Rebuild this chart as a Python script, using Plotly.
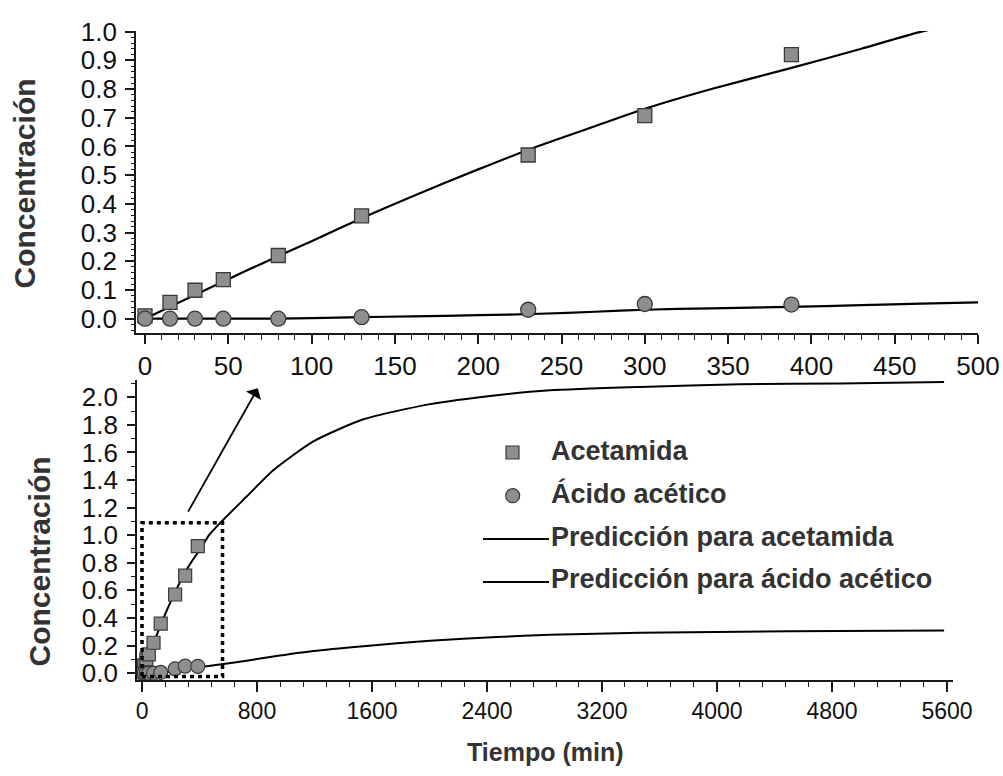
import plotly.graph_objects as go

# Experimental sampling times (min) and measured concentrations
t_exp = [0, 15, 30, 47, 80, 130, 230, 300, 388]
acetamida_exp = [0.01, 0.057, 0.099, 0.136, 0.22, 0.358, 0.57, 0.707, 0.92]
acido_exp = [0.0, 0.0, 0.0, 0.0, 0.0, 0.005, 0.031, 0.051, 0.049]

# Model prediction curves
t_pred = [0, 20, 40, 60, 80, 100, 130, 160, 200, 237, 270, 300, 340, 387, 430,
          466, 554, 728, 913, 1192, 1540, 2004, 2468, 2838, 3465, 4160, 4856, 5580]
acetamida_pred = [0.0, 0.055, 0.11, 0.165, 0.218, 0.27, 0.35, 0.425, 0.52, 0.603,
                  0.67, 0.731, 0.80, 0.872, 0.94, 1.0, 1.1, 1.28, 1.47, 1.68,
                  1.84, 1.95, 2.015, 2.05, 2.075, 2.095, 2.10, 2.11]
acido_pred = [0.0, 0.0, 0.0, 0.0, 0.0, 0.002, 0.005, 0.008, 0.012, 0.017, 0.024,
              0.031, 0.036, 0.041, 0.047, 0.052, 0.065, 0.09, 0.12, 0.16, 0.195,
              0.235, 0.262, 0.278, 0.292, 0.30, 0.305, 0.308]

# Zoomed region highlighted in the lower panel
zoom_t = [0, 560]
zoom_c = [-0.025, 1.09]
# Arrow pointing from the zoom box toward the upper panel
arrow_tail = (315, 1.16)
arrow_head = (805, 2.065)

legend_labels = ["Acetamida", "Ácido acético",
                 "Predicción para acetamida", "Predicción para ácido acético"]

W, H = 1003, 776
FONT = "Liberation Sans, Arial, sans-serif"
MARK_FILL = "#8e8e8e"
MARK_EDGE = "#3a3a3a"
TEXT_GRAY = "#333333"


def px(x):
    return x / W


def py(y):
    return 1 - y / H


fig = go.Figure()

curve_line = dict(color="black", width=2.2, shape="spline", smoothing=0.6)

# ---- upper panel (0-500 min) ----
fig.add_trace(go.Scatter(x=t_pred, y=acetamida_pred, mode="lines", line=curve_line,
                         xaxis="x", yaxis="y", showlegend=False))
fig.add_trace(go.Scatter(x=t_pred, y=acido_pred, mode="lines", line=curve_line,
                         xaxis="x", yaxis="y", showlegend=False))
fig.add_trace(go.Scatter(x=t_exp, y=acetamida_exp, mode="markers",
                         marker=dict(symbol="square", size=14, color=MARK_FILL,
                                     line=dict(color=MARK_EDGE, width=1.3)),
                         xaxis="x", yaxis="y", showlegend=False))
fig.add_trace(go.Scatter(x=t_exp, y=acido_exp, mode="markers",
                         marker=dict(symbol="circle", size=15, color=MARK_FILL,
                                     line=dict(color=MARK_EDGE, width=1.3)),
                         xaxis="x", yaxis="y", showlegend=False))

# ---- lower panel (full time span) ----
fig.add_trace(go.Scatter(x=t_pred, y=acetamida_pred, mode="lines",
                         line=dict(curve_line, width=2),
                         xaxis="x2", yaxis="y2", showlegend=False))
fig.add_trace(go.Scatter(x=t_pred, y=acido_pred, mode="lines",
                         line=dict(curve_line, width=2),
                         xaxis="x2", yaxis="y2", showlegend=False))
fig.add_trace(go.Scatter(x=t_exp, y=acetamida_exp, mode="markers",
                         marker=dict(symbol="square", size=13, color=MARK_FILL,
                                     line=dict(color=MARK_EDGE, width=1.2)),
                         xaxis="x2", yaxis="y2", showlegend=False))
fig.add_trace(go.Scatter(x=t_exp, y=acido_exp, mode="markers",
                         marker=dict(symbol="circle", size=14, color=MARK_FILL,
                                     line=dict(color=MARK_EDGE, width=1.2)),
                         xaxis="x2", yaxis="y2", showlegend=False))

axis_common = dict(showline=True, linecolor="#1a1a1a", linewidth=1.6,
                   ticks="outside", tickcolor="#1a1a1a", tickwidth=1.5,
                   showgrid=False, zeroline=False, mirror=False,
                   automargin=False)
label_font = dict(family=FONT, size=26, color="#111111")
bottom_x_font = dict(family=FONT, size=23, color="#111111")

fig.update_layout(
    template="plotly_white",
    width=W, height=H,
    margin=dict(l=0, r=0, t=0, b=0),
    paper_bgcolor="white", plot_bgcolor="white",
    showlegend=False,
    xaxis=dict(domain=[px(136), px(978)], range=[-5.4, 500], anchor="y",
               tickmode="linear", tick0=0, dtick=50, ticklen=9,
               tickfont=label_font,
               minor=dict(dtick=10, ticklen=5, ticks="outside",
                          tickcolor="#1a1a1a", tickwidth=1.3),
               **axis_common),
    yaxis=dict(domain=[py(333), py(31)], range=[-0.05, 1.002], anchor="x",
               tickmode="linear", tick0=0, dtick=0.1, tickformat=".1f",
               ticklen=9, tickfont=label_font, ticklabelstandoff=3,
               minor=dict(dtick=0.02, ticklen=3, ticks="outside",
                          tickcolor="#1a1a1a", tickwidth=1.2),
               **axis_common),
    xaxis2=dict(domain=[px(137), px(953)], range=[-35, 5642], anchor="y2",
                tickmode="linear", tick0=0, dtick=800, ticklen=10,
                tickfont=bottom_x_font,
                minor=dict(dtick=160, ticklen=5, ticks="outside",
                           tickcolor="#1a1a1a", tickwidth=1.3),
                **axis_common),
    yaxis2=dict(domain=[py(680), py(380)], range=[-0.05, 2.125], anchor="x2",
                tickmode="linear", tick0=0, dtick=0.2, tickformat=".1f",
                ticklen=8, tickfont=label_font, ticklabelstandoff=4,
                minor=dict(dtick=0.1, ticklen=4, ticks="outside",
                           tickcolor="#1a1a1a", tickwidth=1.2),
                **axis_common),
)

shapes = [
    dict(type="rect", xref="x2", yref="y2",
         x0=zoom_t[0], x1=zoom_t[1], y0=zoom_c[0], y1=zoom_c[1],
         line=dict(color="black", width=3.5, dash="4px,4px"),
         fillcolor="rgba(0,0,0,0)"),
    # legend keys
    dict(type="rect", xref="paper", yref="paper",
         x0=px(506), x1=px(519), y0=py(459), y1=py(446),
         fillcolor=MARK_FILL, line=dict(color=MARK_EDGE, width=1.2)),
    dict(type="circle", xref="paper", yref="paper",
         x0=px(505.7), x1=px(519.7), y0=py(502.7), y1=py(488.7),
         fillcolor=MARK_FILL, line=dict(color=MARK_EDGE, width=1.2)),
    dict(type="line", xref="paper", yref="paper",
         x0=px(483), x1=px(549), y0=py(539), y1=py(539),
         line=dict(color="black", width=2)),
    dict(type="line", xref="paper", yref="paper",
         x0=px(483), x1=px(549), y0=py(582), y1=py(582),
         line=dict(color="black", width=2)),
]
fig.update_layout(shapes=shapes)

annotations = [
    dict(x=arrow_head[0], y=arrow_head[1], xref="x2", yref="y2",
         ax=arrow_tail[0], ay=arrow_tail[1], axref="x2", ayref="y2",
         text="", showarrow=True, arrowhead=1, arrowsize=1.6,
         arrowwidth=1.8, arrowcolor="black"),
    dict(x=px(24), y=py(183.5), xref="paper", yref="paper",
         text="<b>Concentración</b>", textangle=-90, showarrow=False,
         xanchor="center", yanchor="middle",
         font=dict(family=FONT, size=30, color=TEXT_GRAY)),
    dict(x=px(38.5), y=py(562), xref="paper", yref="paper",
         text="<b>Concentración</b>", textangle=-90, showarrow=False,
         xanchor="center", yanchor="middle",
         font=dict(family=FONT, size=30, color=TEXT_GRAY)),
    dict(x=px(545), y=py(752), xref="paper", yref="paper",
         text="<b>Tiempo (min)</b>", showarrow=False,
         xanchor="center", yanchor="middle",
         font=dict(family=FONT, size=25, color=TEXT_GRAY)),
]
for label, yc in zip(legend_labels, [451, 493, 537, 579]):
    annotations.append(dict(x=px(549), y=py(yc), xref="paper", yref="paper",
                            text="<b>" + label + "</b>", showarrow=False,
                            xanchor="left", yanchor="middle",
                            font=dict(family=FONT, size=27, color=TEXT_GRAY)))
fig.update_layout(annotations=annotations)

fig.write_html("out.html")
